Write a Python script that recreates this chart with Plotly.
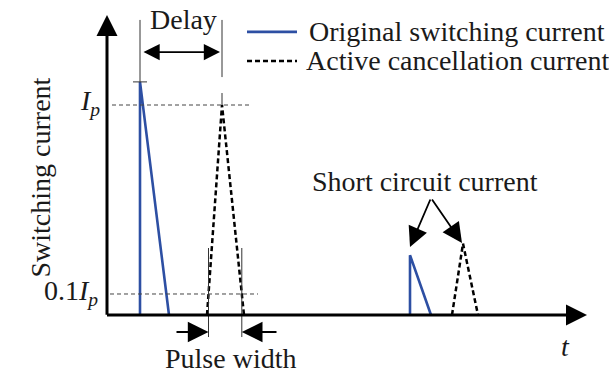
import plotly.graph_objects as go

# Current pulses: time in arbitrary units, current normalised to the peak Ip
switch_t = [3.3, 3.3, 6.2]
switch_i = [0.0, 1.11, 0.0]
cancel_t = [10.0, 11.5, 13.7]
cancel_i = [0.0, 1.0, 0.0]
short_t = [30.3, 30.3, 32.4]
short_i = [0.0, 0.285, 0.0]
short_cancel_t = [34.5, 35.6, 37.1]
short_cancel_i = [0.0, 0.34, 0.0]

level_ip = 1.0
level_tenth = 0.1

series_names = ["Original switching current", "Active cancellation current"]
y_title = "Switching current"

BLUE = "#2D4FA3"
FONT = "Liberation Serif, Times New Roman, serif"
FS = 28

x_range = [-10.7, 50.2]
y_range = [-0.281, 1.5]


def cross(t0, i0, t1, i1, level):
    # time at which a straight pulse edge passes a given current level
    return t0 + (level - i0) * (t1 - t0) / (i1 - i0)


pw_left = cross(cancel_t[0], cancel_i[0], cancel_t[1], cancel_i[1], level_tenth)
pw_right = cross(cancel_t[1], cancel_i[1], cancel_t[2], cancel_i[2], level_tenth)

fig = go.Figure()

dotted = dict(color="black", width=2.5, dash="5px,3px")
fig.add_trace(go.Scatter(x=switch_t, y=switch_i, mode="lines", name=series_names[0],
                         line=dict(color=BLUE, width=2.6)))
fig.add_trace(go.Scatter(x=cancel_t, y=cancel_i, mode="lines", name=series_names[1], line=dotted))
fig.add_trace(go.Scatter(x=short_t, y=short_i, mode="lines", line=dict(color=BLUE, width=2.6)))
fig.add_trace(go.Scatter(x=short_cancel_t, y=short_cancel_i, mode="lines", line=dotted))

thin = dict(color="#333333", width=1)
ref = dict(color="#444444", width=1, dash="4px,3px")

shapes = [
    # Ip and 0.1Ip reference levels
    dict(type="line", x0=0.5, x1=14.5, y0=level_ip, y1=level_ip, line=ref),
    dict(type="line", x0=0.3, x1=15.1, y0=level_tenth, y1=level_tenth, line=ref),
    # delay markers
    dict(type="line", x0=switch_t[1], x1=switch_t[1], y0=1.405, y1=switch_i[1], line=thin),
    dict(type="line", x0=switch_t[1] - 0.7, x1=switch_t[1] + 0.7, y0=switch_i[1], y1=switch_i[1], line=thin),
    dict(type="line", x0=cancel_t[1], x1=cancel_t[1], y0=1.405, y1=1.133, line=thin),
    dict(type="line", x0=cancel_t[1], x1=cancel_t[1], y0=1.057, y1=level_ip, line=thin),
    # pulse width markers
    dict(type="line", x0=pw_left, x1=pw_left, y0=0.319, y1=-0.105, line=thin),
    dict(type="line", x0=pw_right, x1=pw_right, y0=0.319, y1=-0.105, line=thin),
    # legend samples
    dict(type="line", x0=14.0, x1=19.0, y0=1.348, y1=1.348, line=dict(color=BLUE, width=2.6)),
    dict(type="line", x0=14.0, x1=19.0, y0=1.21, y1=1.21, line=dict(color="black", width=2.5, dash="5px,3px")),
]

txt = dict(family=FONT, size=FS, color="#1a1a1a")


def arrow(x, y, ax, ay, width, size, side="end"):
    return dict(x=x, y=y, ax=ax, ay=ay, xref="x", yref="y", axref="x", ayref="y",
                text="", showarrow=True, arrowhead=2, arrowwidth=width, arrowsize=size,
                arrowcolor="black", arrowside=side, startarrowhead=2, startarrowsize=size)


annotations = [
    # axes
    arrow(0, 1.429, 0, -0.006, 3, 1.4),
    arrow(48.0, 0, -0.15, 0, 3, 1.4),
    # delay
    arrow(11.3, 1.252, 3.5, 1.252, 1.8, 1.8, "end+start"),
    dict(x=7.6, y=1.405, text="Delay", showarrow=False, font=txt, xref="x", yref="y"),
    # pulse width
    arrow(pw_left, -0.081, 6.8, -0.081, 1.8, 2.3),
    arrow(pw_right, -0.081, 17.1, -0.081, 1.8, 2.3),
    dict(x=12.3, y=-0.205, text="Pulse width", showarrow=False, font=txt, xref="x", yref="y"),
    # short circuit
    arrow(short_t[1], 0.324, 32.4, 0.557, 1.8, 2.2),
    arrow(35.5, 0.343, 32.4, 0.557, 1.8, 2.2),
    dict(x=31.8, y=0.638, text="Short circuit current", showarrow=False, font=txt, xref="x", yref="y"),
    # level labels
    dict(x=-0.5, y=1.01, text="<i>I</i><sub><i>p</i></sub>", showarrow=False, font=txt,
         xref="x", yref="y", xanchor="right"),
    dict(x=-0.7, y=0.105, text="0.1<i>I</i><sub><i>p</i></sub>", showarrow=False, font=txt,
         xref="x", yref="y", xanchor="right"),
    # axis labels
    dict(x=45.8, y=-0.152, text="<i>t</i>", showarrow=False, font=txt, xref="x", yref="y"),
    dict(x=22 / 609, y=1 - 178 / 374, text=y_title, showarrow=False, font=txt,
         xref="paper", yref="paper", textangle=-90),
    # legend
    dict(x=20.0, y=1.348, text=series_names[0], showarrow=False, font=txt,
         xref="x", yref="y", xanchor="left"),
    dict(x=19.7, y=1.21, text=series_names[1], showarrow=False, font=txt,
         xref="x", yref="y", xanchor="left"),
]

fig.update_layout(
    width=609, height=374,
    margin=dict(l=0, r=0, t=0, b=0),
    paper_bgcolor="white", plot_bgcolor="white",
    font=dict(family=FONT, size=FS, color="#1a1a1a"),
    showlegend=False,
    xaxis=dict(range=x_range, visible=False, fixedrange=True),
    yaxis=dict(range=y_range, visible=False, fixedrange=True),
    shapes=shapes,
    annotations=annotations,
)

fig.write_html("out.html")
